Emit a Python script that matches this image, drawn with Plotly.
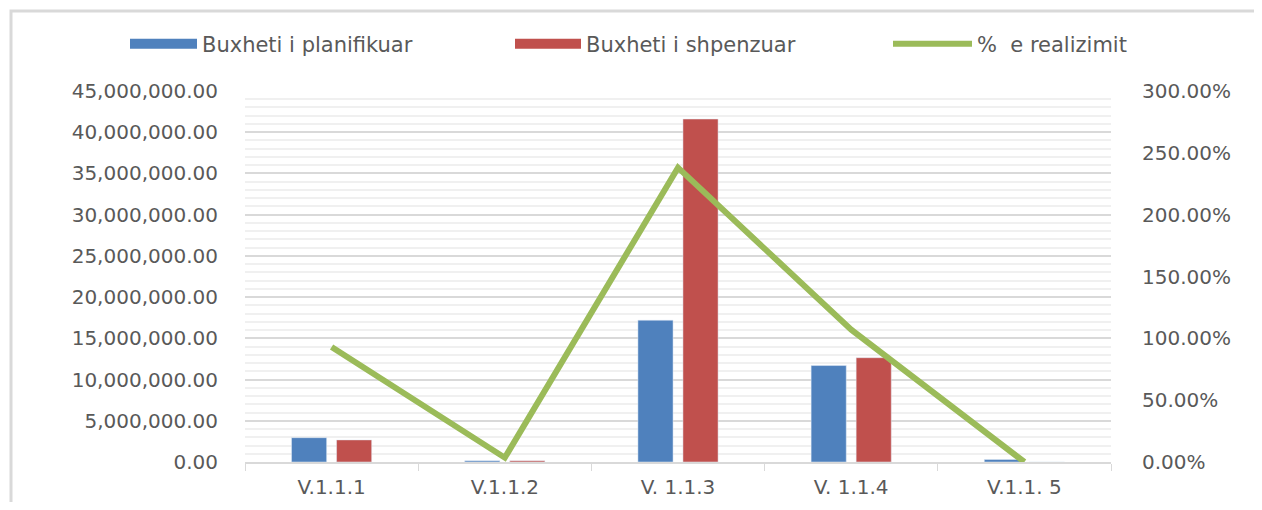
import plotly.graph_objects as go

# data
categories = ["V.1.1.1", "V.1.1.2", "V. 1.1.3", "V. 1.1.4", "V.1.1. 5"]
planned = [2950000, 150000, 17200000, 11700000, 300000]
spent = [2680000, 150000, 41600000, 12650000, 0]
realized = [0.93, 0.035, 2.38, 1.07, 0.0]

FONT = "DejaVu Sans"
GREY = "#595959"
BLUE, RED, GREEN = "#4F81BD", "#C0504D", "#9BBB59"

# page body has an 8px margin, so keep the figure inside the window
W, H = 1246, 494
L, R, T, B = 237, 143, 83, 40
PW, PH = W - L - R, H - T - B

fig = go.Figure()
fig.add_trace(go.Bar(
    x=categories, y=planned, name="Buxheti i planifikuar",
    marker=dict(color=BLUE), legendgroup="plan", showlegend=False,
))
fig.add_trace(go.Bar(
    x=categories, y=spent, name="Buxheti i shpenzuar",
    marker=dict(color=RED), legendgroup="spent", showlegend=False,
))
fig.add_trace(go.Scatter(
    x=categories, y=realized, name="%  e realizimit", yaxis="y2",
    mode="lines", line=dict(color=GREEN, width=6), legend="legend3",
    showlegend=True,
))
# legend-only entries so the bar swatches are wide blocks like in Excel
fig.add_trace(go.Scatter(
    x=[None], y=[None], mode="lines", name="Buxheti i planifikuar",
    line=dict(color=BLUE, width=11), legendgroup="plan", legend="legend",
    showlegend=True, hoverinfo="skip",
))
fig.add_trace(go.Scatter(
    x=[None], y=[None], mode="lines", name="Buxheti i shpenzuar",
    line=dict(color=RED, width=11), legendgroup="spent", legend="legend2",
    showlegend=True, hoverinfo="skip",
))

# outer chart frame like the Excel chart area
fig.add_shape(type="rect", xref="paper", yref="paper",
              x0=(3 - L) / PW, x1=1.5, y0=-0.5, y1=(PH + T - 3) / PH,
              line=dict(color="#d9d9d9", width=3), fillcolor="rgba(0,0,0,0)",
              layer="below")


def leg(x, iw):
    return dict(
        orientation="h", xref="container", x=x / W, xanchor="left",
        yref="container", y=1 - 36 / H, yanchor="middle",
        font=dict(family=FONT, size=21, color=GREY),
        bgcolor="rgba(0,0,0,0)", itemwidth=iw, visible=True,
    )


fig.update_layout(
    width=W, height=H, showlegend=True,
    margin=dict(l=L, r=R, t=T, b=B, autoexpand=False),
    paper_bgcolor="white", plot_bgcolor="white",
    barmode="group", bargap=0.48, bargroupgap=0.22,
    font=dict(family=FONT, color=GREY, size=20),
    legend=leg(117, 67),
    legend2=leg(502, 66),
    legend3=leg(880, 79),
    xaxis=dict(
        showline=True, linecolor="#d9d9d9", linewidth=1.5,
        ticks="outside", tickson="boundaries", ticklen=7, tickcolor="#d9d9d9",
        tickfont=dict(size=20, color=GREY), showgrid=False,
        ticklabelstandoff=6, automargin=False,
    ),
    yaxis=dict(
        range=[0, 45000000], dtick=5000000, tickformat=",.2f",
        showgrid=True, gridcolor="#d9d9d9", gridwidth=1.5,
        minor=dict(dtick=1000000, showgrid=True, gridcolor="#f0f0f0", gridwidth=1.5),
        tickfont=dict(size=20, color=GREY), ticklabelstandoff=26,
        zeroline=False, automargin=False,
    ),
    yaxis2=dict(
        overlaying="y", side="right", range=[0, 3], dtick=0.5,
        tickformat=".2%", showgrid=False, zeroline=False,
        tickfont=dict(size=20, color=GREY), ticklabelstandoff=30,
        automargin=False,
    ),
)

fig.write_html("out.html")
